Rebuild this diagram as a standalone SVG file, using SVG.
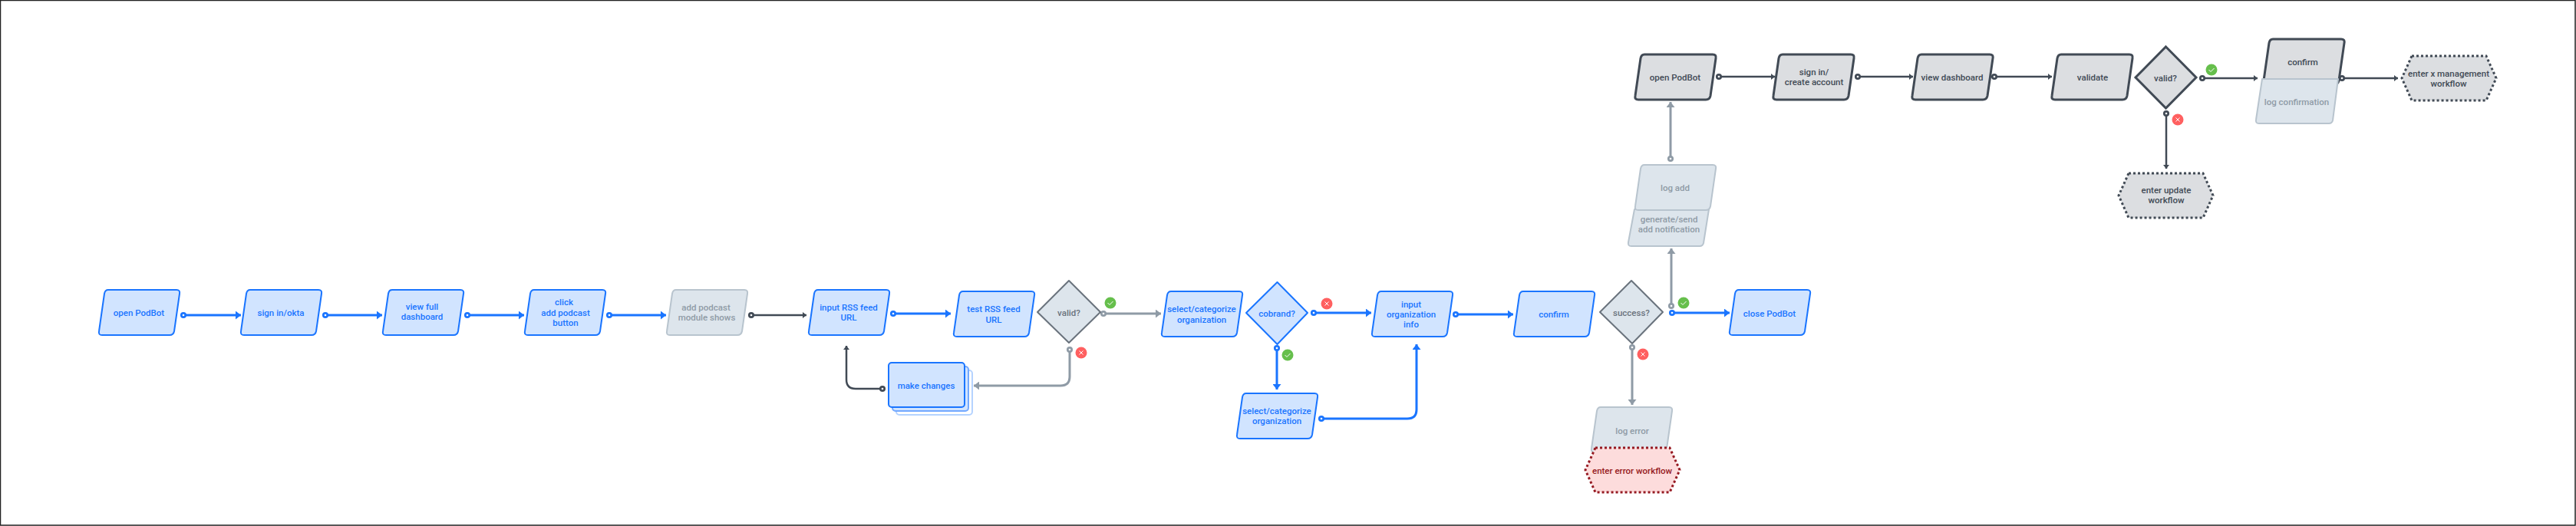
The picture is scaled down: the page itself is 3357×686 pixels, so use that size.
<svg xmlns="http://www.w3.org/2000/svg" width="3357" height="686" viewBox="0 0 3357 686">
<style>
text{font-family:Roboto,"Liberation Sans",sans-serif;font-size:11.500px;font-weight:500;text-anchor:middle}
.n{stroke-width:2;stroke-linejoin:round}
.b{fill:#d1e4ff;stroke:#1a75ff}.bt{fill:#1a75ff}
.g{fill:#dde5ec;stroke:#b8c4ce}.gt{fill:#8f9ba6}
.d{fill:#dcdee1;stroke:#414a55;stroke-width:3}.dt{fill:#414a55}
.gd{fill:#dde5ec;stroke:#6a737d}.gdt{fill:#6a737d}
.hd{stroke-dasharray:3 3;stroke-width:3}
.r{fill:#fddcdc;stroke:#961a22}.rt{fill:#961a22}
.c{fill:none;stroke-linejoin:round}
.cb{stroke:#1a75ff;stroke-width:3}.cg{stroke:#8f9ba6;stroke-width:3}.cd{stroke:#414a55;stroke-width:2.500}
.o{fill:#fff;stroke-width:2.700}
.k{fill:none;stroke:#fff}
</style>
<defs>
<marker id="ab" markerUnits="userSpaceOnUse" markerWidth="8" markerHeight="11" refX="7" refY="5.500" orient="auto"><path d="M0 0L7 5.500L0 11z" fill="#1a75ff"/></marker>
<marker id="ag" markerUnits="userSpaceOnUse" markerWidth="8" markerHeight="11" refX="7" refY="5.500" orient="auto"><path d="M0 0L7 5.500L0 11z" fill="#8f9ba6"/></marker>
<marker id="ad" markerUnits="userSpaceOnUse" markerWidth="6" markerHeight="8" refX="5" refY="4" orient="auto"><path d="M0 0L5 4L0 8z" fill="#414a55"/></marker>
<path id="pg" d="M13 0H102Q107 0 106 5L99 54Q98 59 93 59H5Q0 59 1 54L8 5Q9 0 13 0z"/>
<path id="hx" d="M13 0H110L123 29L110 58H13L0 29z"/>
</defs>
<rect x="0.500" y="0.500" width="3355.500" height="684.500" fill="#fff" stroke="#222" stroke-width="1.500"/>
<g id="connectors">
<g class="c cb">
<path d="M239 411H314" marker-end="url(#ab)"/><path d="M424 411H498" marker-end="url(#ab)"/><path d="M609 411H683" marker-end="url(#ab)"/><path d="M794 411H868" marker-end="url(#ab)"/>
<path d="M1164 409H1239" marker-end="url(#ab)"/><path d="M1712 408H1787" marker-end="url(#ab)"/><path d="M1897 410H1972" marker-end="url(#ab)"/><path d="M2179 408H2254" marker-end="url(#ab)"/>
<path d="M1664 454V508" marker-end="url(#ab)"/><path d="M1722 546H1834Q1846 546 1846 534V449" marker-end="url(#ab)"/>
</g>
<g class="c cg">
<path d="M1438 409H1513" marker-end="url(#ag)"/><path d="M1394 456V491Q1394 503 1382 503H1269" marker-end="url(#ag)"/>
<path d="M2127 453V528" marker-end="url(#ag)"/><path d="M2178 399V324" marker-end="url(#ag)"/><path d="M2177 207V133" marker-end="url(#ag)"/>
</g>
<g class="c cd">
<path d="M979 411H1051" marker-end="url(#ad)"/><path d="M1150 507H1115Q1103 507 1103 495V451" marker-end="url(#ad)"/>
<path d="M2240 100H2313" marker-end="url(#ad)"/><path d="M2421 100H2493" marker-end="url(#ad)"/><path d="M2599 100H2674" marker-end="url(#ad)"/>
<path d="M2870 102H2942" marker-end="url(#ad)"/><path d="M2823 148V220" marker-end="url(#ad)"/><path d="M3052 102H3125" marker-end="url(#ad)"/>
</g>
<g class="o" stroke="#1a75ff">
<circle cx="239" cy="411" r="2.700"/><circle cx="424" cy="411" r="2.700"/><circle cx="609" cy="411" r="2.700"/><circle cx="794" cy="411" r="2.700"/><circle cx="1164" cy="409" r="2.700"/><circle cx="1712" cy="408" r="2.700"/><circle cx="1897" cy="410" r="2.700"/><circle cx="1664" cy="454" r="2.700"/><circle cx="1722" cy="546" r="2.700"/>
</g>
<g class="o" stroke="#8f9ba6"><circle cx="1438" cy="409" r="2.700"/><circle cx="1394" cy="456" r="2.700"/><circle cx="2127" cy="453" r="2.700"/><circle cx="2178" cy="399" r="2.700"/><circle cx="2177" cy="207" r="2.700"/></g>
<circle cx="2179" cy="408" r="2.700" fill="#fff" stroke="#1a75ff" stroke-width="2.700"/>
<g class="o" stroke="#414a55"><circle cx="979" cy="411" r="2.700"/><circle cx="1150" cy="507" r="2.700"/><circle cx="2240" cy="100" r="2.700"/><circle cx="2421" cy="100" r="2.700"/><circle cx="2599" cy="100" r="2.700"/><circle cx="2870" cy="102" r="2.700"/><circle cx="2823" cy="148" r="2.700"/><circle cx="3052" cy="102" r="2.700"/></g>
</g>
<g id="n1"><use href="#pg" x="128" y="378" class="n b"/><text x="181" y="412" class="bt">open PodBot</text></g>
<g id="n2"><use href="#pg" x="313" y="378" class="n b"/><text x="366" y="412" class="bt">sign in/okta</text></g>
<g id="n3"><use href="#pg" x="498" y="378" class="n b"/><text x="550" y="404" class="bt">view full</text><text x="550" y="417" class="bt">dashboard</text></g>
<g id="n4"><use href="#pg" x="683" y="378" class="n b"/><text x="735" y="398" class="bt">click</text><text x="737" y="412" class="bt">add podcast</text><text x="737" y="425" class="bt">button</text></g>
<g id="n5"><use href="#pg" x="868" y="378" class="n g"/><text x="920" y="405" class="gt">add podcast</text><text x="921" y="418" class="gt">module shows</text></g>
<g id="n6"><use href="#pg" x="1053" y="378" class="n b"/><text x="1106" y="405" class="bt">input RSS feed</text><text x="1106" y="418" class="bt">URL</text></g>
<g id="n7"><use href="#pg" x="1242" y="380" class="n b"/><text x="1295" y="407" class="bt">test RSS feed</text><text x="1295" y="421" class="bt">URL</text></g>
<g id="n8"><path d="M1393 366L1434 407L1393 447L1352 407z" class="n gd"/><text x="1393" y="412" class="gdt">valid?</text></g>
<g id="n9"><rect x="1168" y="483" width="99" height="58" rx="4" fill="#fff" stroke="#b5d3ff" stroke-width="2"/><rect x="1163" y="478" width="99" height="58" rx="4" fill="#d1e4ff" stroke="#73a9ff" stroke-width="2"/><rect x="1158" y="473" width="99" height="58" rx="4" class="n b"/><text x="1207" y="507" class="bt">make changes</text></g>
<g id="n10"><use href="#pg" x="1513" y="380" class="n b"/><text x="1566" y="407" class="bt">select/categorize</text><text x="1566" y="421" class="bt">organization</text></g>
<g id="n11"><path d="M1664.500 368L1704 408L1664.500 449L1624 408z" class="n b"/><text x="1664" y="413" class="bt">cobrand?</text></g>
<g id="n12"><use href="#pg" x="1787" y="380" class="n b"/><text x="1839" y="401" class="bt">input</text><text x="1839" y="414" class="bt">organization</text><text x="1839" y="427" class="bt">info</text></g>
<g id="n13"><use href="#pg" x="1972" y="380" class="n b"/><text x="2025" y="414" class="bt">confirm</text></g>
<g id="n14"><path d="M2126 366L2167 407L2127 448L2085 407z" class="n gd"/><text x="2126" y="412" class="gdt">success?</text></g>
<g id="n15"><use href="#pg" x="1611" y="513" class="n b"/><text x="1664" y="540" class="bt">select/categorize</text><text x="1664" y="553" class="bt">organization</text></g>
<g id="n16"><use href="#pg" x="2253" y="378" class="n b"/><text x="2306" y="413" class="bt">close PodBot</text></g>
<g id="n17"><use href="#pg" x="2073" y="531" class="n g"/><text x="2127" y="566" class="gt">log error</text></g>
<g id="n18"><use href="#hx" x="2066" y="584" class="hd r"/><text x="2127" y="618" class="rt">enter error workflow</text></g>
<g id="n19"><path d="M2130 273H2227L2220 317Q2219 321 2215 321H2126Q2121 321 2122 316z" class="n g"/><text x="2175" y="290" class="gt">generate/send</text><text x="2175" y="303" class="gt">add notification</text></g>
<g id="n20"><use href="#pg" x="2130" y="215" class="n g"/><text x="2183" y="249" class="gt">log add</text></g>
<g id="n21"><use href="#pg" x="2130" y="71" class="d"/><text x="2183" y="105" class="dt">open PodBot</text></g>
<g id="n22"><use href="#pg" x="2310" y="71" class="d"/><text x="2364" y="98" class="dt">sign in/</text><text x="2364" y="111" class="dt">create account</text></g>
<g id="n23"><use href="#pg" x="2491" y="71" class="d"/><text x="2544" y="105" class="dt">view dashboard</text></g>
<g id="n24"><use href="#pg" x="2673" y="71" class="d"/><text x="2727" y="105" class="dt">validate</text></g>
<g id="n25"><path d="M2822.500 61L2862 101L2822.500 141L2783 101z" class="d"/><text x="2822" y="106" class="dt">valid?</text></g>
<g id="n26"><use href="#pg" x="2949" y="51" class="d"/><text x="3001" y="85" class="dt">confirm</text></g>
<g id="n27"><path d="M2948 103H3047L3040 157Q3039 161 3035 161H2944Q2939 161 2940 156z" class="n g"/><text x="2993" y="137" class="gt">log confirmation</text></g>
<g id="n28"><use href="#hx" x="2761" y="226" class="d hd"/><text x="2823" y="252" class="dt">enter update</text><text x="2823" y="265" class="dt">workflow</text></g>
<g id="n29"><use href="#hx" x="3130" y="73" class="d hd"/><text x="3191" y="100" class="dt">enter x management</text><text x="3191" y="113" class="dt">workflow</text></g>
<g id="badges">
<circle cx="1447" cy="395" r="7.500" fill="#66bf4c"/><path d="M1443.500 395l2.500 2.500l4.500-4.500" class="k"/>
<circle cx="1409" cy="460" r="7.500" fill="#ff6060"/><path d="M1406.500 457.500l5 5m0-5l-5 5" class="k"/>
<circle cx="1729" cy="396" r="7.500" fill="#ff6060"/><path d="M1726.500 393.500l5 5m0-5l-5 5" class="k"/>
<circle cx="1678" cy="463" r="7.500" fill="#66bf4c"/><path d="M1674.500 463l2.500 2.500l4.500-4.500" class="k"/>
<circle cx="2194" cy="395" r="7.500" fill="#66bf4c"/><path d="M2190.500 395l2.500 2.500l4.500-4.500" class="k"/>
<circle cx="2141" cy="462" r="7.500" fill="#ff6060"/><path d="M2138.500 459.500l5 5m0-5l-5 5" class="k"/>
<circle cx="2882" cy="91" r="7.500" fill="#66bf4c"/><path d="M2878.500 91l2.500 2.500l4.500-4.500" class="k"/>
<circle cx="2838" cy="156" r="7.500" fill="#ff6060"/><path d="M2835.500 153.500l5 5m0-5l-5 5" class="k"/>
</g>
</svg>
